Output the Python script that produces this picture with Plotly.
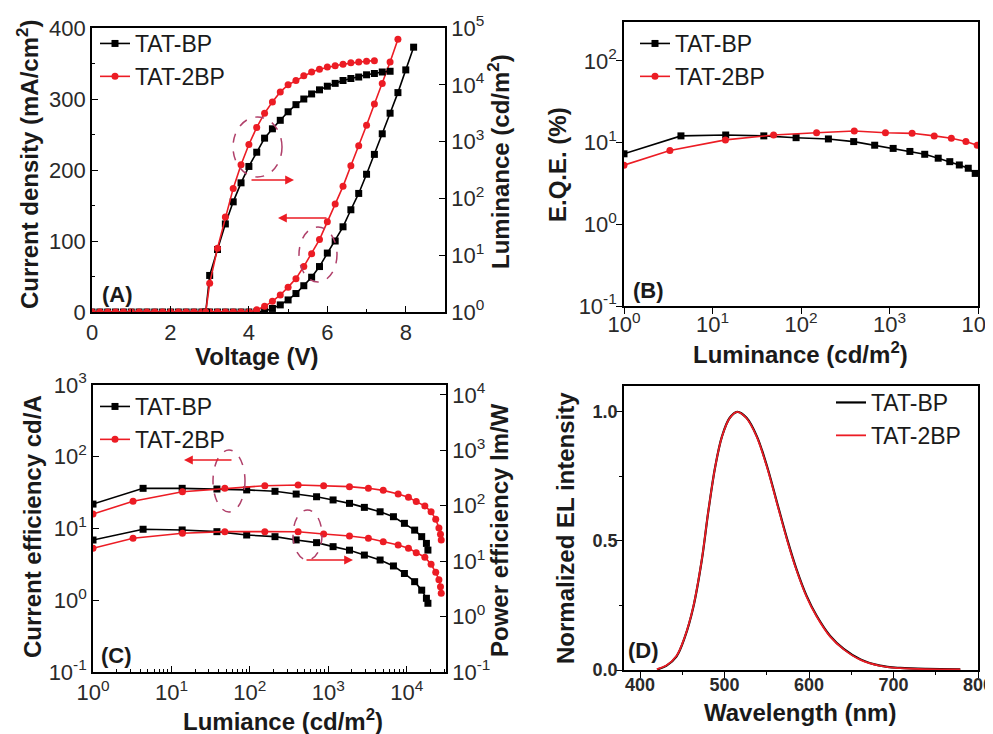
import plotly.graph_objects as go

# ---------------- data ----------------
# (A) J-V-L
V_J_BP = [0.0, 0.2, 0.4, 0.6, 0.8, 1.0, 1.2, 1.4, 1.6, 1.8, 2.0, 2.2, 2.4, 2.6, 2.8, 3.0, 3.2, 3.4, 3.6, 3.8, 4.0, 4.2,
          4.4, 4.6, 4.8, 5.0, 5.2, 5.4, 5.6, 5.8, 6.0, 6.2, 6.4, 6.6, 6.8, 7.0, 7.2, 7.4, 7.6, 7.8, 8.0, 8.2]
J_BP = [0, 0, 0, 0, 0, 0, 0, 0, 0, 0, 0, 0, 0, 0, 0, 0, 0, 0, 0, 0, 0, 0,
        1.5, 5, 10, 17, 26, 37, 49, 64, 83, 100, 120, 144, 167, 194, 222, 251, 280, 309, 341, 373]
V_J_2BP = [0.0, 0.2, 0.4, 0.6, 0.8, 1.0, 1.2, 1.4, 1.6, 1.8, 2.0, 2.2, 2.4, 2.6, 2.8, 3.0, 3.2, 3.4, 3.6, 3.8, 4.0,
           4.2, 4.4, 4.6, 4.8, 5.0, 5.2, 5.4, 5.6, 5.8, 6.0, 6.2, 6.4, 6.6, 6.8, 7.0, 7.2, 7.4, 7.6, 7.8]
J_2BP = [0, 0, 0, 0, 0, 0, 0, 0, 0, 0, 0, 0, 0, 0, 0, 0, 0, 0, 0, 0, 0,
         3, 8, 15, 24, 35, 47, 64, 82, 102, 127, 152, 177, 206, 234, 263, 293, 322, 352, 384]

V_L_BP = [2.9, 3.0, 3.2, 3.4, 3.6, 3.8, 4.0, 4.2, 4.4, 4.6, 4.8, 5.0, 5.2, 5.4, 5.6, 5.8, 6.0, 6.2, 6.4, 6.6,
          6.8, 7.0, 7.2, 7.4, 7.6]
L_BP = [1, 4.4, 12.6, 35.5, 87, 188, 365, 650, 1150, 1680, 2370, 3350, 4470, 5620, 6900, 8150, 9440, 10600,
        11900, 12900, 13700, 15000, 15800, 16800, 17300]
V_L_2BP = [2.9, 3.0, 3.2, 3.4, 3.6, 3.8, 4.0, 4.2, 4.4, 4.6, 4.8, 5.0, 5.2, 5.4, 5.6, 5.8, 6.0, 6.2, 6.4, 6.6,
           6.8, 7.0, 7.2]
L_2BP = [1, 3.2, 13.3, 47, 150, 390, 890, 1780, 3160, 5000, 7500, 10000, 11900, 14500, 16800, 18800, 20500,
         21700, 23000, 24400, 25100, 25900, 26600]

# (B) EQE vs luminance
LB_BP = [1.0, 4.4, 14.1, 38, 88, 204, 394, 680, 1100, 1700, 2500, 3550, 4800, 6150, 7760, 9300]
EQE_BP = [7.3, 12.1, 12.4, 12.1, 11.5, 11.1, 10.3, 9.3, 8.5, 7.8, 7.2, 6.45, 5.85, 5.33, 4.86, 4.2]
LB_2BP = [1.0, 3.3, 14, 49, 150, 400, 900, 1800, 3200, 5000, 7300, 9800]
EQE_2BP = [5.3, 8.0, 10.8, 12.4, 13.2, 13.9, 13.2, 13.0, 12.1, 11.3, 10.3, 9.3]

# (C) CE / PE vs luminance
LC_BP = [1.0, 4.35, 13.7, 38, 91, 209, 389, 708, 1150, 1860, 2880, 4570, 6760, 9330, 12600, 15500, 17800, 18600]
CE_BP = [21.9, 36.3, 36.3, 35.5, 34.5, 33.0, 30.2, 27.7, 25.0, 22.4, 19.7, 17.1, 14.6, 11.8, 9.5, 7.7, 6.2, 5.0]
PE_BP = [24.1, 37.7, 36.6, 34.1, 29.7, 27.7, 24.2, 21.6, 18.3, 15.8, 12.9, 10.5, 8.2, 6.0, 4.27, 3.0, 2.14, 1.74]
LC_2BP = [1.0, 3.24, 13.8, 47.9, 155, 412, 871, 1860, 3240, 5010, 7760, 10500, 13200, 17000, 20400, 23400,
          25700, 26900, 27500]
CE_2BP = [15.9, 24.0, 32.6, 36.3, 39.5, 40.4, 39.5, 38.3, 36.3, 34.0, 30.2, 27.2, 23.7, 20.6, 17.1, 13.5, 10.2,
          8.3, 6.9]
PE_2BP = [17.1, 25.9, 31.9, 34.1, 34.1, 34.0, 30.9, 28.5, 25.9, 22.5, 19.6, 17.1, 14.2, 11.8, 8.8, 6.3, 4.6,
          3.47, 2.63]

# (D) EL spectra
WL = [420, 431, 443, 453, 463, 473, 481, 489, 497, 506, 515, 526, 538, 550, 562, 574, 585, 597, 609, 625, 641,
      661, 684, 708, 739, 779]
EL_BP = [0.002, 0.016, 0.052, 0.127, 0.243, 0.424, 0.619, 0.788, 0.905, 0.976, 1.0, 0.977, 0.907, 0.792, 0.650,
         0.508, 0.392, 0.288, 0.210, 0.132, 0.082, 0.041, 0.017, 0.008, 0.004, 0.003]
EL_2BP = [0.003, 0.017, 0.054, 0.129, 0.245, 0.426, 0.620, 0.788, 0.904, 0.975, 1.0, 0.975, 0.904, 0.788, 0.646,
          0.504, 0.388, 0.284, 0.207, 0.129, 0.080, 0.039, 0.016, 0.007, 0.003, 0.002]

NAMES = ["TAT-BP", "TAT-2BP"]

# ---------------- style ----------------
W, H = 993, 734            # figure size
OFF = 8                    # default body margin of the page
BLACK = "#000000"
RED = "#ec1c24"
ELL = "#b0406a"
FONT = "Liberation Sans, Arial, sans-serif"
TICKFONT = dict(family=FONT, size=22, color="#2a2a2a")
DFONT = dict(family=FONT, size=18, color="#2a2a2a", weight="bold")


def px(sx, sy):
    """window pixel -> paper coordinates"""
    return (sx - OFF) / W, 1 - (sy - OFF) / H


def xdom(a, b):
    return [px(a, 0)[0], px(b, 0)[0]]


def ydom(top, bottom):
    return [px(0, bottom)[1], px(0, top)[1]]


def sup(n):
    return "10<sup>%d</sup>" % n


fig = go.Figure()


def add(x, y, xa, ya, color, symbol, name, legend, show, markers=True, shape="linear", width=1.6):
    fig.add_trace(go.Scatter(
        x=x, y=y, xaxis=xa, yaxis=ya, name=name, legend=legend, showlegend=show,
        mode="lines+markers" if markers else "lines",
        line=dict(color=color, width=width, shape=shape),
        marker=dict(symbol=symbol, size=7, color=color)))


# A
add(V_J_BP, J_BP, "x", "y", BLACK, "square", NAMES[0], "legend", True)
add(V_L_BP, L_BP, "x", "y2", BLACK, "square", NAMES[0], "legend", False)
add(V_J_2BP, J_2BP, "x", "y", RED, "circle", NAMES[1], "legend", True)
add(V_L_2BP, L_2BP, "x", "y2", RED, "circle", NAMES[1], "legend", False)
# B
add(LB_BP, EQE_BP, "x2", "y3", BLACK, "square", NAMES[0], "legend2", True)
add(LB_2BP, EQE_2BP, "x2", "y3", RED, "circle", NAMES[1], "legend2", True)
# C
add(LC_BP, CE_BP, "x3", "y4", BLACK, "square", NAMES[0], "legend3", True)
add(LC_BP, PE_BP, "x3", "y5", BLACK, "square", NAMES[0], "legend3", False)
add(LC_2BP, CE_2BP, "x3", "y4", RED, "circle", NAMES[1], "legend3", True)
add(LC_2BP, PE_2BP, "x3", "y5", RED, "circle", NAMES[1], "legend3", False)
# D
add(WL, EL_BP, "x4", "y6", BLACK, "square", NAMES[0], "legend4", True, markers=False, shape="spline", width=2.2)
add(WL, EL_2BP, "x4", "y6", RED, "circle", NAMES[1], "legend4", True, markers=False, shape="spline", width=1.8)

base = dict(showline=True, linecolor=BLACK, linewidth=1.6, ticks="inside", ticklen=6, tickwidth=1.4,
            tickcolor=BLACK, showgrid=False, zeroline=False, tickfont=TICKFONT, automargin=False)
outx = dict(base, ticks="outside", ticklen=6, ticklabelstandoff=-8)
outy = dict(base, ticks="outside", ticklen=6, ticklabelstandoff=-5)
minor_in = dict(ticks="inside", ticklen=3, tickwidth=1.2, tickcolor=BLACK, showgrid=False)
minor_out = dict(minor_in, ticks="outside")

fig.update_layout(
    width=W, height=H, margin=dict(l=0, r=0, t=0, b=0, autoexpand=False),
    paper_bgcolor="white", plot_bgcolor="white",
    font=dict(family=FONT),
    # A
    xaxis=dict(base, domain=xdom(92, 445), range=[0, 9], anchor="y", tickvals=[0, 2, 4, 6, 8],
               minor=dict(minor_in, dtick=1), mirror=True),
    yaxis=dict(base, domain=ydom(28, 312), range=[0, 400], anchor="x", tickvals=[0, 100, 200, 300, 400],
               minor=dict(minor_in, dtick=50)),
    yaxis2=dict(base, domain=ydom(28, 312), type="log", range=[0, 5], anchor="x", overlaying="y", side="right",
                tickvals=[1, 10, 100, 1e3, 1e4, 1e5], ticktext=[sup(i) for i in range(6)]),
    # B
    xaxis2=dict(outx, domain=xdom(624, 978), type="log", range=[0, 4], anchor="y3", mirror=True,
                tickvals=[1, 10, 100, 1e3, 1e4], ticktext=[sup(i) for i in range(5)]),
    yaxis3=dict(outy, domain=ydom(22, 306), type="log", range=[-1, 2.477], anchor="x2", mirror=True,
                tickvals=[0.1, 1, 10, 100], ticktext=[sup(i) for i in range(-1, 3)]),
    # C
    xaxis3=dict(base, domain=xdom(93, 446), type="log", range=[0, 4.5], anchor="y4", mirror=True,
                tickvals=[1, 10, 100, 1e3, 1e4], ticktext=[sup(i) for i in range(5)],
                minor=dict(minor_in, dtick="D1")),
    yaxis4=dict(base, domain=ydom(385, 672), type="log", range=[-1, 3], anchor="x3",
                tickvals=[0.1, 1, 10, 100, 1e3], ticktext=[sup(i) for i in range(-1, 4)]),
    yaxis5=dict(base, domain=ydom(385, 672), type="log", range=[-1, 4.18], anchor="x3", overlaying="y4",
                side="right", tickvals=[0.1, 1, 10, 100, 1e3, 1e4], ticktext=[sup(i) for i in range(-1, 5)]),
    # D
    xaxis4=dict(outx, domain=xdom(624, 978), range=[381, 800], anchor="y6", mirror=True,
                tickvals=[400, 500, 600, 700, 800], minor=dict(minor_out, dtick=50), tickfont=DFONT),
    yaxis6=dict(outy, domain=ydom(386, 670), range=[0, 1.1], anchor="x4", mirror=True,
                tickvals=[0, 0.5, 1.0], ticktext=["0.0", "0.5", "1.0"],
                minor=dict(minor_out, tickvals=[0.25, 0.75]), tickfont=DFONT),
)

LEG = dict(bgcolor="rgba(0,0,0,0)", font=dict(family=FONT, size=23, color="#1a1a1a"), xanchor="left",
           yanchor="top", tracegroupgap=0, itemwidth=30)
fig.update_layout(
    legend=dict(LEG, x=px(95, 0)[0], y=px(0, 22)[1]),
    legend2=dict(LEG, x=px(635, 0)[0], y=px(0, 22)[1]),
    legend3=dict(LEG, x=px(95, 0)[0], y=px(0, 385)[1]),
    legend4=dict(LEG, x=px(831, 0)[0], y=px(0, 381)[1]),
)

# axis titles and panel labels
ann = []


def text(x, y, s, angle=0, size=24, bold=True):
    xx, yy = px(x, y)
    ann.append(dict(x=xx, y=yy, xref="paper", yref="paper", text="<b>%s</b>" % s if bold else s,
                    showarrow=False, textangle=angle, xanchor="center", yanchor="middle",
                    font=dict(family=FONT, size=size, color="#1a1a1a")))


text(28, 165, "Current density (mA/cm<sup>2</sup>)", -90)
text(499, 162, "Luminance (cd/m<sup>2</sup>)", -90)
text(257, 356, "Voltage (V)")
text(557, 165, "E.Q.E. (%)", -90)
text(800, 353, "Luminance (cd/m<sup>2</sup>)")
text(32, 527, "Current efficiency cd/A", -90)
text(499, 530, "Power efficiency lm/W", -90)
text(283, 720, "Lumiance (cd/m<sup>2</sup>)")
text(565, 528, "Normalized EL intensity", -90)
text(800, 712, "Wavelength (nm)")
text(117, 295, "(A)", size=22)
text(648, 290, "(B)", size=22)
text(116, 655, "(C)", size=22)
text(643, 650, "(D)", size=22)


def arrow(tx, ty, hx, hy):
    xx, yy = px(hx, hy)
    ann.append(dict(x=xx, y=yy, xref="paper", yref="paper", text="", showarrow=True, ax=tx - hx, ay=ty - hy,
                    arrowhead=2, arrowsize=1.1, arrowwidth=1.6, arrowcolor=RED))


arrow(250, 180, 294, 180)
arrow(328, 218, 278, 218)
arrow(233, 460, 184, 460)
arrow(305, 560, 353, 560)

fig.update_layout(annotations=ann)


def ellipse(x0, y0, x1, y1):
    a, b = px(x0, y1)
    c, d = px(x1, y0)
    fig.add_shape(type="circle", xref="paper", yref="paper", x0=a, y0=b, x1=c, y1=d,
                  line=dict(color=ELL, width=1.5, dash="dash"))


ellipse(233, 117, 282, 177)
ellipse(299, 227, 337, 282)
ellipse(213, 450, 245, 512)
ellipse(293, 510, 322, 560)

fig.write_html("out.html")
